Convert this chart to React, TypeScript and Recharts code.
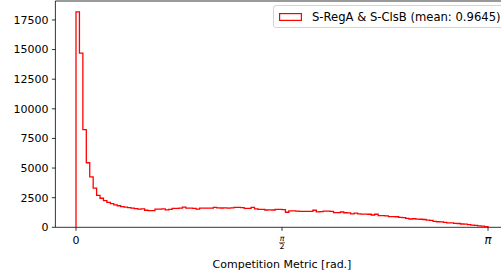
import { LineChart, Line, XAxis, YAxis, ReferenceArea, Legend } from 'recharts'

// histogram counts, 120 equal bins over [0, pi]
const binCounts = [
  18190, 14700, 8250, 5450, 4250, 3300, 2700, 2450, 2250, 2100,
  2000, 1900, 1820, 1750, 1700, 1660, 1610, 1570, 1540, 1550,
  1440, 1400, 1410, 1530, 1540, 1550, 1470, 1520, 1600, 1590,
  1610, 1700, 1620, 1610, 1600, 1530, 1610, 1620, 1620, 1610,
  1690, 1640, 1630, 1640, 1620, 1640, 1680, 1680, 1660, 1600,
  1600, 1690, 1560, 1520, 1520, 1460, 1470, 1460, 1520, 1510,
  1500, 1270, 1380, 1380, 1370, 1350, 1350, 1340, 1350, 1440,
  1300, 1320, 1370, 1370, 1340, 1240, 1240, 1290, 1230, 1220,
  1140, 1200, 1130, 1110, 1110, 1100, 1040, 1100, 990, 980,
  970, 900, 900, 890, 830, 810, 760, 700, 720, 690,
  680, 660, 600, 580, 500, 470, 450, 420, 380, 370,
  330, 320, 280, 260, 230, 190, 170, 120, 100, 60,
]
const seriesName = 'S-RegA & S-ClsB (mean: 0.9645)'
const xLabel = 'Competition Metric [rad.]'
const yTicks = [0, 2500, 5000, 7500, 10000, 12500, 15000, 17500]
const xTicks = [0, Math.PI / 2, Math.PI]

const PI = Math.PI
const binW = PI / binCounts.length
const xMin = -0.05 * PI
const xMax = PI * 1.05
const yMax = Math.max(...binCounts) * 1.05

// step outline: rise from 0, one point per bin edge, drop back to 0
const stepData = [
  { x: 0, y: 0 },
  ...binCounts.map((c, i) => ({ x: i * binW, y: c })),
  { x: PI, y: binCounts[binCounts.length - 1] },
  { x: PI, y: 0 },
]

const FONT = 'DejaVu Sans'
const FS = 11
const RED = '#ff0000'

const XTick = ({ x, y, payload }: { x?: number; y?: number; payload?: { value: number } }) => {
  const v = payload?.value ?? 0
  const ty = y ?? 0
  if (v === 0) {
    return <text x={x} y={ty + 10} textAnchor="middle" fontSize={FS} fontFamily={FONT} fill="#000">0</text>
  }
  if (Math.abs(v - PI) < 1e-6) {
    return <text x={x} y={ty + 10} textAnchor="middle" fontSize={11.5} fontStyle="italic" fontFamily={FONT} fill="#000">π</text>
  }
  return (
    <g>
      <text x={x} y={ty + 6.5} textAnchor="middle" fontSize={7.8} fontStyle="italic" fontFamily={FONT} fill="#000">π</text>
      <line x1={(x ?? 0) - 3} x2={(x ?? 0) + 3} y1={ty + 8.5} y2={ty + 8.5} stroke="#000" strokeWidth={0.6} />
      <text x={x} y={ty + 15} textAnchor="middle" fontSize={7.8} fontFamily={FONT} fill="#000">2</text>
    </g>
  )
}

const HistLegend = () => (
  <div
    style={{
      display: 'flex',
      alignItems: 'center',
      boxSizing: 'border-box',
      height: 23,
      padding: '0 7px 0 5px',
      border: '1px solid #d4d4d4',
      borderRadius: 3,
      background: 'rgba(255,255,255,0.8)',
      fontFamily: FONT,
      fontSize: 11.6,
      color: '#000',
      whiteSpace: 'nowrap',
    }}
  >
    <svg width={23} height={8} style={{ marginRight: 10, display: 'block' }}>
      <rect x={0.6} y={0.6} width={21.8} height={6.8} fill="none" stroke={RED} strokeWidth={1.2} />
    </svg>
    {seriesName}
  </div>
)

export default function App() {
  return (
    <div style={{ position: 'absolute', left: 0, top: 0, width: 501, height: 278, overflow: 'hidden', background: '#fff' }}>
      <LineChart width={510} height={278} data={stepData} margin={{ top: 1, right: 1.4, left: 0, bottom: 0 }}>
        <XAxis
          type="number"
          dataKey="x"
          domain={[xMin, xMax]}
          allowDataOverflow
          ticks={xTicks}
          interval={0}
          tick={<XTick />}
          tickSize={3.5}
          tickMargin={3.5}
          axisLine={false}
          tickLine={{ stroke: '#000', strokeWidth: 0.8 }}
          height={50.7}
          label={{ value: xLabel, position: 'insideBottom', offset: 10, fontSize: FS, fontFamily: FONT, fill: '#000' }}
        />
        <YAxis
          type="number"
          domain={[0, yMax]}
          allowDataOverflow
          ticks={yTicks}
          interval={0}
          width={55.4}
          tickSize={3.5}
          tickMargin={3.5}
          axisLine={false}
          tickLine={{ stroke: '#000', strokeWidth: 0.8 }}
          tick={{ fontSize: FS, fontFamily: FONT, fill: '#000' }}
        />
        <ReferenceArea x1={xMin} x2={xMax} y1={0} y2={yMax} fill="none" stroke="#000" strokeWidth={0.8} />
        <Legend
          layout="horizontal"
          verticalAlign="middle"
          align="center"
          wrapperStyle={{ top: 5, left: 273, width: 'auto', height: 'auto' }}
          content={<HistLegend />}
        />
        <Line
          type="stepAfter"
          dataKey="y"
          stroke={RED}
          strokeWidth={1.3}
          dot={false}
          isAnimationActive={false}
        />
      </LineChart>
    </div>
  )
}
